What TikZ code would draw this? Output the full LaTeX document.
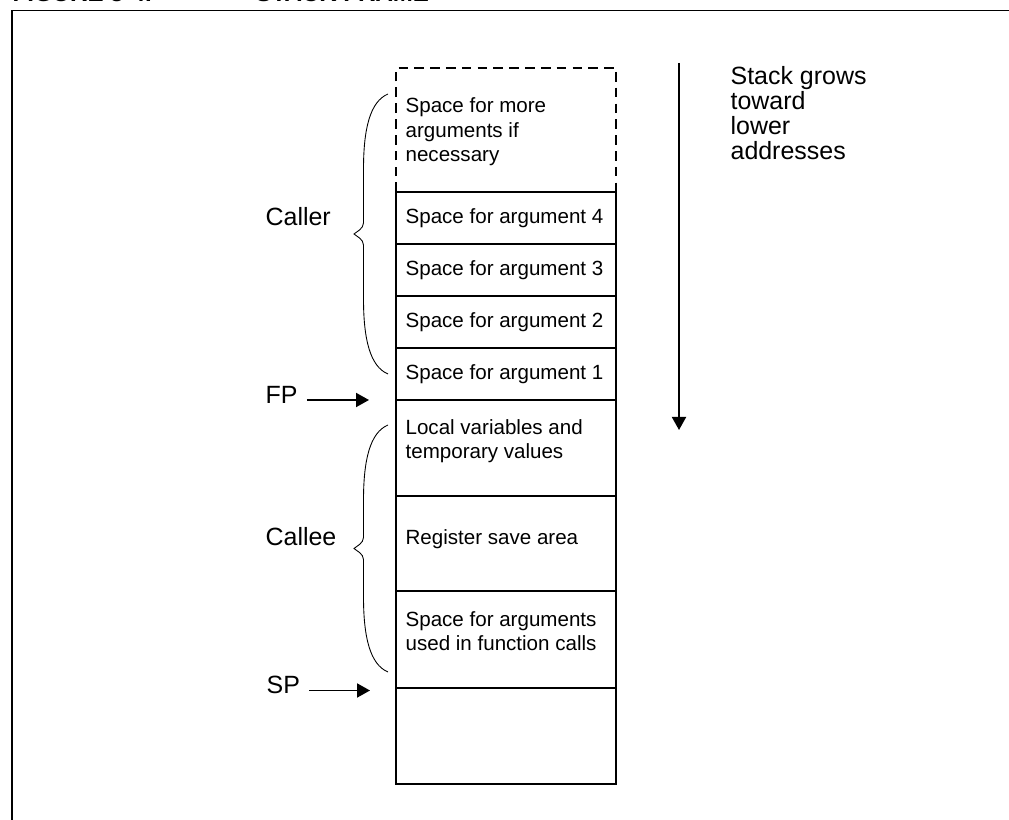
\documentclass[tikz,border=0pt]{standalone}
\usepackage{fontspec}
\setmainfont{Liberation Sans}
\usetikzlibrary{arrows.meta}
\tikzset{
	celltext/.style={anchor=west, inner sep=0pt, align=left, font=\fontsize{11.7}{14.2}\selectfont},
	sidelabel/.style={anchor=base west, inner sep=0pt, align=left, font=\fontsize{14.2}{14.4}\selectfont},
	header/.style={anchor=base west, inner sep=0pt, font=\fontsize{13.7}{14}\selectfont\bfseries},
	pointer/.style={->, line width=1pt},
}
% curly brace on the left of the stack: centre y, half height
\newcommand{\framebrace}[2]{%
	\draw[line width=0.5pt] (7.76,#1+#2) .. controls (7.40,#1+#2-0.15) and (7.27,#1+#2-0.7) .. (7.27,#1+#2-1.5)
	-- (7.27,#1+0.22) .. controls (7.27,#1+0.1) and (7.12,#1+0.04) .. (7.08,#1)
	.. controls (7.12,#1-0.04) and (7.27,#1-0.1) .. (7.27,#1-0.22)
	-- (7.27,#1-#2+1.5) .. controls (7.27,#1-#2+0.7) and (7.40,#1-#2+0.15) .. (7.76,#1-#2);}

\begin{document}
\begin{tikzpicture}[>={Triangle[length=7.4pt,width=8pt]}, line width=0.7pt]
		%\draw[help lines] (0,0) grid (20,16);
		\useasboundingbox (0,0) rectangle (20.18,16.4);
		\begin{scope}
			\clip (0,0) rectangle (20.18,16.4);
			\node[header] (fignum) at (0.24,16.37) {FIGURE 3-4.};
			\node[header] (figtitle) at (5.10,16.37) {STACK FRAME};
		\end{scope}
		\draw[line width=1pt] (0.24,0) -- (0.24,16.19) -- (20.18,16.19);%frame
		
		\draw[dash pattern=on 5.5pt off 3.5pt] (7.92,12.56) -- (7.92,15.04) -- (12.32,15.04) -- (12.32,12.56);%extra args
		\draw (7.92,12.56) rectangle (12.32,0.72);%stack
		\draw (7.92,11.52) -- (12.32,11.52);
		\draw (7.92,10.48) -- (12.32,10.48);
		\draw (7.92,9.44) -- (12.32,9.44);
		\draw (7.92,8.40) -- (12.32,8.40);%frame pointer
		\draw (7.92,6.48) -- (12.32,6.48);
		\draw (7.92,4.58) -- (12.32,4.58);
		\draw (7.92,2.64) -- (12.32,2.64);%stack pointer
		
		\node[celltext, anchor=base west] (moreargs) at (8.10,13.16) {Space for more\\arguments if\\necessary};
		\node[celltext] (arg4) at (8.10,12.04) {Space for argument 4};
		\node[celltext] (arg3) at (8.10,11.00) {Space for argument 3};
		\node[celltext] (arg2) at (8.10,9.96) {Space for argument 2};
		\node[celltext] (arg1) at (8.10,8.92) {Space for argument 1};
		\node[celltext, anchor=base west] (locals) at (8.10,7.22) {Local variables and\\temporary values};
		\node[celltext, anchor=base west] (regsave) at (8.10,5.50) {Register save area};
		\node[celltext, anchor=base west] (outargs) at (8.10,3.38) {Space for arguments\\used in function calls};
		
		\framebrace{11.72}{2.80}%caller
		\framebrace{5.43}{2.47}%callee
		\node[sidelabel] (caller) at (5.30,11.88) {Caller};
		\node[sidelabel] (callee) at (5.30,5.48) {Callee};
		
		\node[sidelabel] (fp) at (5.30,8.32) {FP};
		\coordinate (fpptr) at (7.38,8.40);
		\draw[pointer] ([xshift=5pt]fp.east |- fpptr) -- (fpptr);
		\node[sidelabel] (sp) at (5.32,2.52) {SP};
		\coordinate (spptr) at (7.40,2.59);
		\draw[pointer] ([xshift=5pt]sp.east |- spptr) -- (spptr);
		
		\coordinate (growtop) at (13.58,15.14);
		\coordinate (growend) at (13.58,7.80);
		\draw[pointer] (growtop) -- (growend);
		\node[sidelabel, font=\fontsize{14.2}{14.35}\selectfont] (grows) at (14.60,13.20) {Stack grows\\toward\\lower\\addresses};
\end{tikzpicture}
\end{document}
